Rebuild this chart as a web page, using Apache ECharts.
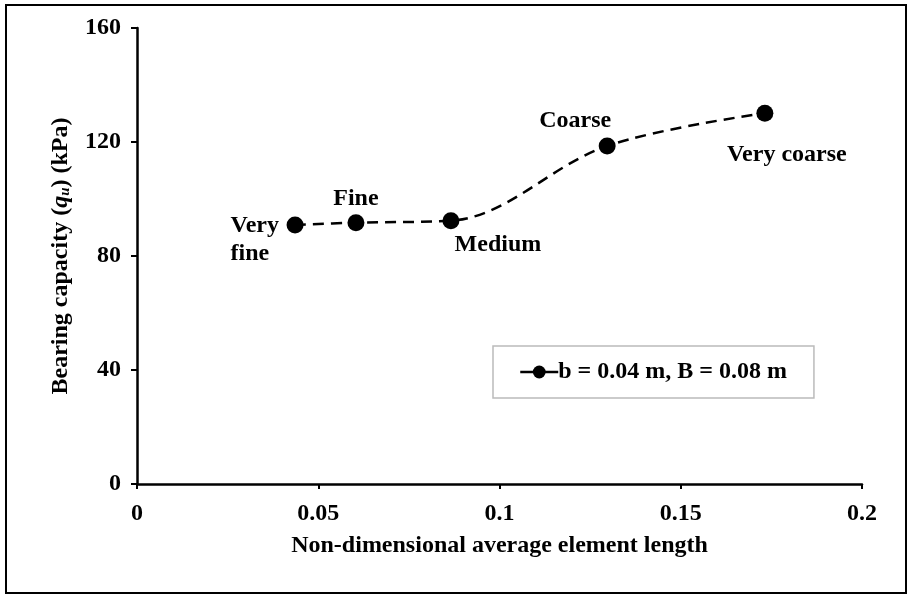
<!DOCTYPE html>
<html lang="en">
<head>
    <meta charset="UTF-8">
    <title>Bearing capacity</title>
    <style>
        html, body { margin: 0; padding: 0; background: #fff; }
        #main { width: 910px; height: 597px; }
    </style>
</head>
<body>
    <div id="main"></div>
    <script src="https://cdn.jsdelivr.net/npm/echarts@6/dist/echarts.min.js"></script>
    <script>
        // data
        var lengths = [0.0436, 0.0604, 0.0866, 0.1297, 0.1732];
        var capacity = [90.9, 91.7, 92.4, 118.6, 130.1];
        var meshNames = ['Very\nfine', 'Fine', 'Medium', 'Coarse', 'Very coarse'];
        var seriesName = 'b = 0.04 m, B = 0.08 m';

        var font = '"Liberation Serif", "Times New Roman", serif';
        var fs = 24;

        // where each mesh label sits around its point
        var labelStyle = [
            { position: 'left', align: 'left', distance: 5, offset: [-51, 15], lineHeight: 28 },
            { position: 'top', distance: 3, offset: [0, 0] },
            { position: 'bottom', distance: 4, offset: [47, 0] },
            { position: 'top', distance: 5, offset: [-32, 0] },
            { position: 'bottom', distance: 21, offset: [22, 0] }
        ];

        var points = lengths.map(function (x, i) {
            return {
                value: [x, capacity[i]],
                label: Object.assign({ show: true, formatter: meshNames[i] }, labelStyle[i])
            };
        });

        var myChart = echarts.init(document.getElementById('main'));

        var option = {
            backgroundColor: '#fff',
            animation: false,
            textStyle: { fontFamily: font, fontWeight: 'bold', color: '#000' },
            graphic: [{
                type: 'rect',
                shape: { x: 6, y: 5, width: 900, height: 588 },
                style: { fill: 'none', stroke: '#000', lineWidth: 2 }
            }],
            grid: { left: 137, right: 48, top: 28, bottom: 113 },
            legend: {
                data: [seriesName],
                left: 493,
                top: 346,
                padding: [14, 27, 14, 26],
                itemWidth: 38,
                itemHeight: 16,
                itemGap: 0,
                lineStyle: { type: 'solid', width: 2.5, color: '#000' },
                borderColor: '#bbb',
                borderWidth: 1.5,
                textStyle: { fontFamily: font, fontWeight: 'bold', fontSize: fs, color: '#000', padding: [0, 0, 0, -5] }
            },
            xAxis: {
                type: 'value',
                min: 0,
                max: 0.2,
                interval: 0.05,
                name: 'Non-dimensional average element length',
                nameLocation: 'middle',
                nameGap: 50,
                nameTextStyle: { fontFamily: font, fontWeight: 'bold', fontSize: fs, color: '#000' },
                axisLine: { lineStyle: { color: '#000', width: 2.5 } },
                axisTick: { show: true, length: 5, lineStyle: { color: '#000', width: 2 } },
                axisLabel: { fontFamily: font, fontWeight: 'bold', fontSize: fs, color: '#000', margin: 18 },
                splitLine: { show: false }
            },
            yAxis: {
                type: 'value',
                min: 0,
                max: 160,
                interval: 40,
                name: '{t|Bearing capacity (}{q|q}{s|u}{t|) (kPa)}',
                nameLocation: 'middle',
                nameGap: 64,
                nameRotate: 90,
                nameTextStyle: {
                    rich: {
                        t: { fontFamily: font, fontWeight: 'bold', fontSize: fs, color: '#000' },
                        q: { fontFamily: font, fontWeight: 'bold', fontStyle: 'italic', fontSize: fs, color: '#000' },
                        s: { fontFamily: font, fontWeight: 'bold', fontStyle: 'italic', fontSize: 15, color: '#000', verticalAlign: 'bottom', padding: [9, 0, 0, 0] }
                    }
                },
                axisLine: { show: true, lineStyle: { color: '#000', width: 2.5 } },
                axisTick: { show: true, length: 6, lineStyle: { color: '#000', width: 2 } },
                axisLabel: { fontFamily: font, fontWeight: 'bold', fontSize: fs, color: '#000', margin: 16 },
                splitLine: { show: false }
            },
            series: [{
                name: seriesName,
                type: 'line',
                data: points,
                smooth: 0.35,
                symbol: 'circle',
                symbolSize: 17,
                itemStyle: { color: '#000' },
                lineStyle: { color: '#000', width: 2.5, type: [11, 7] },
                label: {
                    fontFamily: font,
                    fontWeight: 'bold',
                    fontSize: fs,
                    color: '#000'
                }
            }]
        };

        myChart.setOption(option);
    </script>
</body>
</html>
